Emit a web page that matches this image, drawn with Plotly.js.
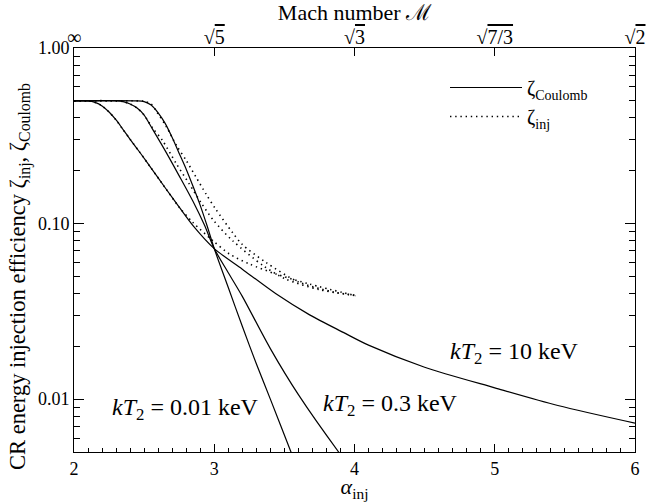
<!DOCTYPE html>
<html>
<head>
<meta charset="utf-8">
<script src="https://cdn.plot.ly/plotly-3.0.1.min.js"></script>
<style>html,body{margin:0;padding:0;background:#fff;}#chart{width:652px;height:502px;}</style>
</head>
<body>
<div id="chart"></div>
<script>
// ---- data ----
// kT2 = 10 keV, Coulomb-limited efficiency (solid)
const alphaCoul10 = [2.0, 2.1, 2.15, 2.2, 2.25, 2.3, 2.35, 2.4, 2.47, 2.55, 2.65, 2.75, 2.85, 3.0, 3.2, 3.44, 3.68, 3.92, 4.1, 4.5, 5.0, 5.45, 6.0];
const zetaCoul10  = [0.50, 0.50, 0.49, 0.468, 0.432, 0.389, 0.343, 0.302, 0.254, 0.207, 0.160, 0.124, 0.097, 0.072, 0.055, 0.0398, 0.0302, 0.0240, 0.0203, 0.0152, 0.0116, 0.0092, 0.0073];
// kT2 = 0.3 keV, Coulomb (solid)
const alphaCoul03 = [2.0, 2.3, 2.35, 2.4, 2.45, 2.5, 2.56, 2.66, 2.75, 2.85, 2.93, 3.0, 3.1, 3.2, 3.4, 3.6, 3.887, 3.95];
const zetaCoul03  = [0.50, 0.50, 0.495, 0.48, 0.455, 0.415, 0.345, 0.252, 0.187, 0.133, 0.098, 0.072, 0.0525, 0.0385, 0.0194, 0.0106, 0.005, 0.0043];
// kT2 = 0.01 keV, Coulomb (solid)
const alphaCoul001 = [2.0, 2.45, 2.5, 2.55, 2.6, 2.65, 2.7, 2.75, 2.8, 2.85, 2.9, 2.95, 3.0, 3.1, 3.2, 3.3, 3.4, 3.547, 3.6];
const zetaCoul001  = [0.50, 0.50, 0.495, 0.473, 0.427, 0.372, 0.309, 0.251, 0.204, 0.162, 0.127, 0.0965, 0.072, 0.0432, 0.0260, 0.0159, 0.0100, 0.0050, 0.0039];
// injection efficiencies (dotted)
const alphaInj10 = [2.0, 2.1, 2.15, 2.2, 2.25, 2.3, 2.35, 2.4, 2.47, 2.55, 2.65, 2.75, 2.85, 2.99, 3.11, 3.25, 3.44, 3.68, 4.01];
const zetaInj10  = [0.50, 0.50, 0.49, 0.468, 0.432, 0.389, 0.343, 0.302, 0.254, 0.207, 0.160, 0.124, 0.101, 0.080, 0.067, 0.0589, 0.0516, 0.0452, 0.0388];
const alphaInj03 = [2.0, 2.3, 2.35, 2.4, 2.45, 2.5, 2.56, 2.63, 2.73, 2.82, 2.91, 3.0, 3.13, 3.35, 3.51, 3.75, 4.01];
const zetaInj03  = [0.50, 0.50, 0.495, 0.48, 0.455, 0.415, 0.35, 0.298, 0.219, 0.169, 0.13, 0.103, 0.080, 0.0575, 0.0483, 0.0420, 0.0389];
const alphaInj001 = [2.0, 2.45, 2.5, 2.55, 2.59, 2.66, 2.73, 2.8, 2.87, 2.94, 3.01, 3.13, 3.2, 3.37, 3.6, 3.85, 4.01];
const zetaInj001  = [0.50, 0.50, 0.497, 0.48, 0.433, 0.355, 0.279, 0.229, 0.184, 0.148, 0.121, 0.089, 0.076, 0.060, 0.0465, 0.0408, 0.0390];

// axis ticks
const xTickVals = [2, 3, 4, 5, 6];
const machTickText = ['∞', '√<span style="text-decoration:overline">5</span>', '√<span style="text-decoration:overline">3</span>', '√<span style="text-decoration:overline">7/3</span>', '√<span style="text-decoration:overline">2</span>'];
const yTickVals = [0.01, 0.1, 1];
const yTickText = ['0.01', '0.10', '1.00'];
const yMinorVals = [0.005, 0.006, 0.007, 0.008, 0.009, 0.02, 0.03, 0.04, 0.05, 0.06, 0.07, 0.08, 0.09, 0.2, 0.3, 0.4, 0.5, 0.6, 0.7, 0.8, 0.9];

// labels
const labelTexts = ['<i>kT</i><sub>2</sub> = 0.01 keV', '<i>kT</i><sub>2</sub> = 0.3 keV', '<i>kT</i><sub>2</sub> = 10 keV'];
const yTitleText = 'CR energy injection efficiency ζ<sub>inj</sub>, ζ<sub>Coulomb</sub>';

const FONT = 'Liberation Serif';
const solid = {color: '#000', width: 1.2, dash: 'solid', shape: 'spline', smoothing: 0.8};
const dotted = {color: '#000', width: 1.6, dash: '1.4px,3.8px', shape: 'spline', smoothing: 0.8};

const traces = [
  {x: alphaCoul10, y: zetaCoul10, mode: 'lines', line: solid, name: 'ζ<sub>Coulomb</sub>', showlegend: true, hoverinfo: 'skip'},
  {x: alphaInj10, y: zetaInj10, mode: 'lines', line: dotted, name: 'ζ<sub>inj</sub>', showlegend: true, hoverinfo: 'skip'},
  {x: alphaCoul03, y: zetaCoul03, mode: 'lines', line: solid, showlegend: false, hoverinfo: 'skip'},
  {x: alphaCoul001, y: zetaCoul001, mode: 'lines', line: solid, showlegend: false, hoverinfo: 'skip'},
  {x: alphaInj03, y: zetaInj03, mode: 'lines', line: dotted, showlegend: false, hoverinfo: 'skip'},
  {x: alphaInj001, y: zetaInj001, mode: 'lines', line: dotted, showlegend: false, hoverinfo: 'skip', xaxis: 'x2'}
];

const plotL = 74, plotR = 635, plotT = 48, plotB = 452;
function px2paperX(px) { return (px - plotL) / (plotR - plotL); }
function px2paperY(py) { return (plotB - py) / (plotB - plotT); }

const layout = {
  width: 652, height: 502,
  margin: {l: plotL, r: 652 - plotR, t: plotT, b: 502 - plotB, pad: 0},
  paper_bgcolor: '#fff', plot_bgcolor: '#fff',
  font: {family: FONT, color: '#000', size: 18},
  showlegend: true,
  legend: {x: px2paperX(445), y: px2paperY(68), xanchor: 'left', yanchor: 'top',
           bgcolor: 'rgba(0,0,0,0)', borderwidth: 0, font: {family: FONT, size: 20, color: '#000'},
           itemwidth: 72, tracegroupgap: 0},
  xaxis: {
    range: [2, 6], tickvals: xTickVals, ticktext: xTickVals.map(String),
    ticks: 'inside', ticklen: 8, tickwidth: 1, tickcolor: '#000',
    minor: {dtick: 0.1, ticks: 'inside', ticklen: 4, tickwidth: 1, tickcolor: '#000', showgrid: false},
    showline: true, linecolor: '#000', linewidth: 1, mirror: false,
    showgrid: false, zeroline: false,
    tickfont: {family: FONT, size: 18, color: '#000'},
    title: {text: '<i>α</i><sub>inj</sub>', font: {family: FONT, size: 22, color: '#000'}, standoff: 2}
  },
  xaxis2: {
    overlaying: 'x', side: 'top', anchor: 'y', range: [2, 6],
    tickvals: xTickVals, ticktext: machTickText,
    ticks: 'inside', ticklen: 8, tickwidth: 1, tickcolor: '#000',
    showline: true, linecolor: '#000', linewidth: 1,
    showgrid: false, zeroline: false, ticklabelstandoff: -5,
    tickfont: {family: FONT, size: 20, color: '#000'},
    title: {text: 'Mach number ℳ', font: {family: FONT, size: 22, color: '#000'}, standoff: 2}
  },
  yaxis: {
    type: 'log', range: [Math.log10(0.005), 0],
    tickvals: yTickVals, ticktext: yTickText,
    ticks: 'inside', ticklen: 10, tickwidth: 1, tickcolor: '#000',
    minor: {tickvals: yMinorVals, ticks: 'inside', ticklen: 6, tickwidth: 1, tickcolor: '#000', showgrid: false},
    showline: true, linecolor: '#000', linewidth: 1, mirror: 'ticks',
    showgrid: false, zeroline: false,
    tickfont: {family: FONT, size: 18, color: '#000'}
  },
  annotations: [
    {text: yTitleText, textangle: -90, xref: 'paper', yref: 'paper', x: px2paperX(19), y: px2paperY(277), xanchor: 'center', yanchor: 'middle', showarrow: false, font: {family: FONT, size: 22.5, color: '#000'}},
    {text: labelTexts[0], xref: 'paper', yref: 'paper', x: px2paperX(185), y: px2paperY(409), xanchor: 'center', yanchor: 'middle', showarrow: false, font: {family: FONT, size: 24, color: '#000'}},
    {text: labelTexts[1], xref: 'paper', yref: 'paper', x: px2paperX(390), y: px2paperY(405), xanchor: 'center', yanchor: 'middle', showarrow: false, font: {family: FONT, size: 24, color: '#000'}},
    {text: labelTexts[2], xref: 'paper', yref: 'paper', x: px2paperX(514), y: px2paperY(353), xanchor: 'center', yanchor: 'middle', showarrow: false, font: {family: FONT, size: 24, color: '#000'}}
  ]
};

Plotly.newPlot('chart', traces, layout, {staticPlot: true, displayModeBar: false});
</script>
</body>
</html>
